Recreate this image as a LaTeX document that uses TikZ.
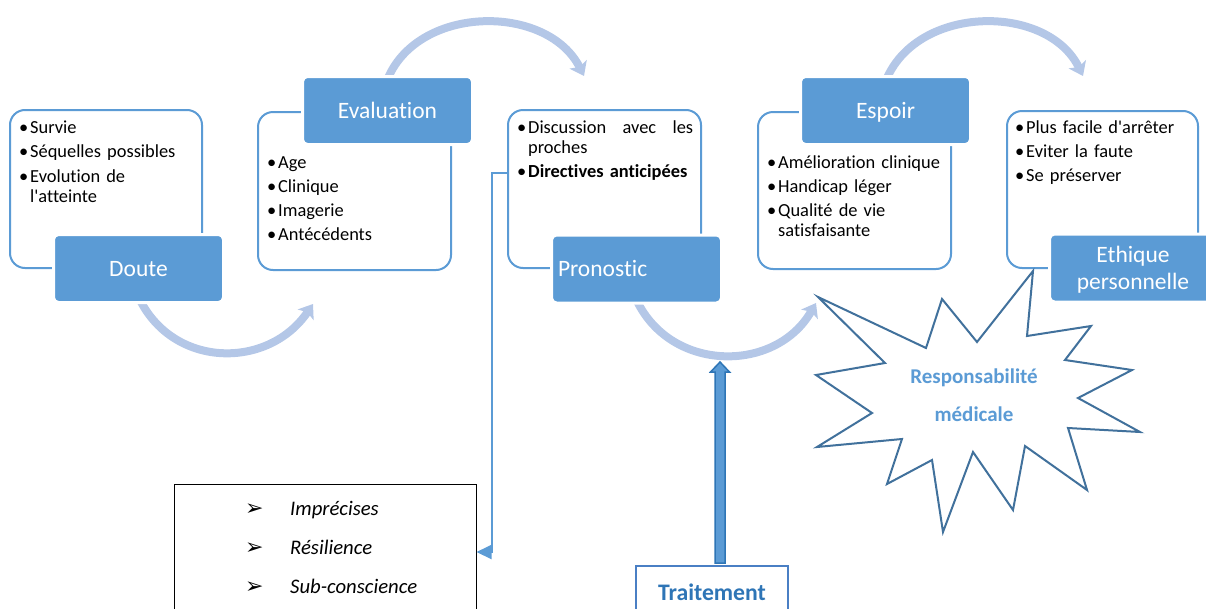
\documentclass[tikz,border=0pt]{standalone}
\usepackage{fontspec}
\setmainfont{Carlito}[Ligatures={TeXOff,CommonOff}]
\newfontfamily\dejavu{DejaVu Sans}
\usetikzlibrary{arrows.meta,calc}
\definecolor{boxblue}{HTML}{5B9BD5}
\definecolor{arclight}{HTML}{B4C7E7}
\definecolor{stardark}{HTML}{41719C}
\definecolor{darkblue}{HTML}{2E75B6}
\definecolor{trborder}{HTML}{4A7FC4}
\newcommand{\bl}[1]{\makebox[11pt][l]{•}#1}
\newcommand{\cn}[1]{\hspace*{11pt}#1}
\newcommand{\arrowbul}[1]{\makebox[45pt][l]{\dejavu\fontsize{22}{22}\selectfont ➢}\textit{#1}}
\tikzset{
  outline/.style={draw=boxblue, line width=2pt, rounded corners=15pt, fill=white, inner sep=0pt},
  titlebox/.style={fill=boxblue, draw=white, line width=3pt, rounded corners=5pt, text=white,
    font=\fontsize{23.5}{26.7}\selectfont, inner sep=0pt, minimum width=170pt, minimum height=68pt},
  onetitle/.style={titlebox, text height=15.1pt, text depth=0pt},
  items/.style={anchor=base west, inner sep=0pt, text width=#1, align=left,
    font=\fontsize{18.4}{20}\selectfont},
  arcarrow/.style={draw=arclight, line width=8pt, -{Stealth[length=13pt,width=19pt,inset=3pt]}},
  conn/.style={draw=boxblue, line width=2pt, -{Triangle[length=15pt,width=14pt]}},
  starline/.style={draw=stardark, line width=2pt, fill=white, line join=miter},
  tarrow/.style={fill=boxblue, draw=darkblue, line width=1.5pt, line join=miter},
}
\begin{document}
\begin{tikzpicture}[x=1pt,y=-1pt]
\useasboundingbox (0,0) rectangle (1206,608);

% outline boxes
\node[outline, minimum width=192pt, minimum height=158pt] (doutebox) at (106,189) {};
\node[outline, minimum width=193pt, minimum height=158pt] (evalbox) at (354.5,191) {};
\node[outline, minimum width=193pt, minimum height=158pt] (pronbox) at (604.5,189) {};
\node[outline, minimum width=193pt, minimum height=157pt] (espbox) at (854.5,190.5) {};
\node[outline, minimum width=191pt, minimum height=157pt] (ethbox) at (1102.5,189.5) {};

% curved arrows
\coordinate (a1s) at (140,300); \coordinate (a1e) at (313,304);
\coordinate (a2s) at (388,78);  \coordinate (a2e) at (584,76);
\coordinate (a3s) at (637,301); \coordinate (a3e) at (816,303);
\coordinate (a4s) at (887,78);  \coordinate (a4e) at (1083,76);
\draw[arcarrow] (a1s) .. controls (175,369) and (269,369) .. (a1e);
\draw[arcarrow] (a2s) .. controls (420,4) and (548,4) .. (a2e);
\draw[arcarrow] (a3s) .. controls (672,373) and (776,373) .. (a3e);
\draw[arcarrow] (a4s) .. controls (920,4) and (1048,4) .. (a4e);

% filled title boxes
\node[onetitle] (doute) at (138.5,268.5) {Doute};
\node[onetitle] (eval) at (387.5,110.5) {Evaluation};
\node[titlebox, text height=15.1pt, text depth=0pt, text width=157pt, align=left] (pron) at (636.5,269) {Pronostic};
\node[onetitle] (espoir) at (885.5,110.5) {Espoir};
\node[titlebox, minimum width=167pt, align=center] (ethique) at (1133,268) {};
\node[anchor=base, inner sep=0pt, text width=160pt, align=center, text=white,
  font=\fontsize{23.5}{26.7}\selectfont] (ethiquet) at (1133,262.7) {Ethique\\personnelle};

% bullet texts
\node[items=185pt] (doutet) at (19,133) {\bl{Survie}\\[4.5pt]\bl{Séquelles possibles}\\[4.5pt]\bl{Evolution de}\\\cn{l'atteinte}};
\node[items=185pt] (evalt) at (267,168) {\bl{Age}\\[4pt]\bl{Clinique}\\[4pt]\bl{Imagerie}\\[4pt]\bl{Antécédents}};
\node[items=185pt] (pront) at (517,133) {\bl{\makebox[165pt][l]{Discussion\hfill avec\hfill les}}\\\cn{proches}\\[4pt]\bl{\textbf{Directives anticipées}}};
\node[items=185pt] (espt) at (767,168) {\bl{Amélioration clinique}\\[4pt]\bl{Handicap léger}\\[4.5pt]\bl{Qualité de vie}\\\cn{satisfaisante}};
\node[items=185pt] (etht) at (1015,133) {\bl{Plus facile d'arrêter}\\[4pt]\bl{Eviter la faute}\\[4.4pt]\bl{Se préserver}};

% bottom-left box
\node[draw=black, line width=1pt, minimum width=302pt, minimum height=135pt, inner sep=0pt] (ibox) at (325,551.5) {};
\node[anchor=base west, inner sep=0pt, text width=220pt, align=left, font=\fontsize{20.7}{39}\selectfont] (iboxt) at (245,515)
  {\arrowbul{Imprécises}\\\arrowbul{Résilience}\\\arrowbul{Sub-conscience}};

% connector from Pronostic box to bottom-left box
\coordinate (c1) at (492,173);
\coordinate (c2) at (492,552);
\draw[conn] (pronbox.west |- c1) -- (c1) -- (c2) -- (ibox.east |- c2);

% star
\draw[starline] (818,297) -- (926,348) -- (942,299) -- (977,342) -- (1033,271) -- (1027,336)
  -- (1091,326) -- (1065,360) -- (1132,370) -- (1078,398) -- (1140,432) -- (1068,428)
  -- (1087,490) -- (1025,446) -- (1013,510) -- (973,452) -- (943,532) -- (932,460)
  -- (887,484) -- (902,439) -- (817,447) -- (872,413) -- (816,375) -- (885,363) -- cycle;
\node[anchor=base, inner sep=0pt, text width=220pt, align=center, text=boxblue,
  font=\fontsize{21}{38.5}\selectfont\bfseries] (resp) at (974,383) {Responsabilité\\médicale};

% Traitement box and arrow
\node[draw=trborder, line width=1.2pt, minimum width=152pt, minimum height=54pt, inner sep=0pt,
  text=darkblue, font=\fontsize{23.7}{26}\selectfont\bfseries, text height=15.3pt, text depth=0pt] (trait) at (712,593) {Traitement};
\coordinate (tb) at (720,563);
\coordinate (tt) at (720,362);
\draw[tarrow] ($(tb)+(-5,0)$) -- ($(tt)+(-5,10)$) -- ($(tt)+(-9.5,10)$) -- (tt) -- ($(tt)+(9.5,10)$)
  -- ($(tt)+(5,10)$) -- ($(tb)+(5,0)$) -- cycle;
\end{tikzpicture}
\end{document}
